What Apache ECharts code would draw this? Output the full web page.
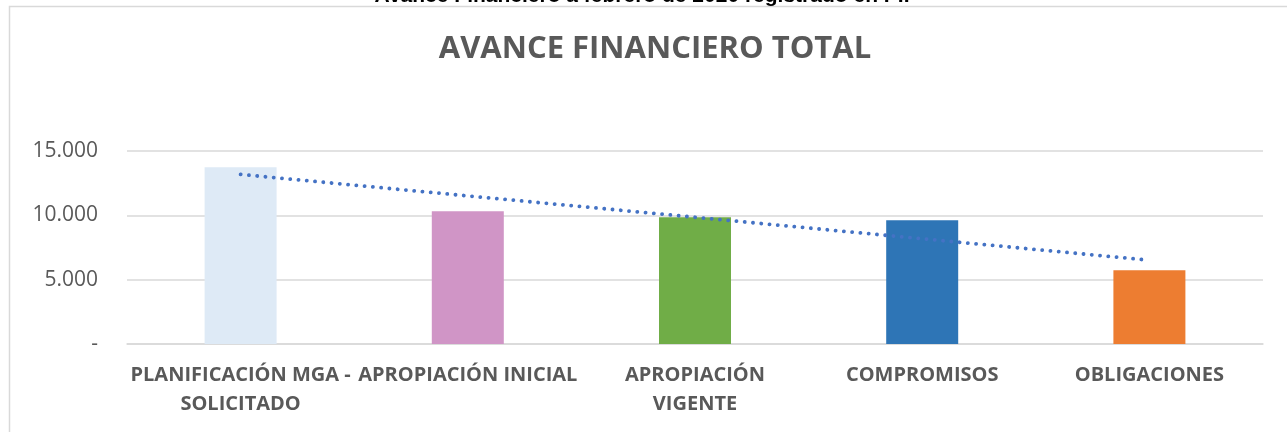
<!DOCTYPE html>
<html>
<head>
<meta charset="utf-8">
<script src="https://cdn.jsdelivr.net/npm/echarts@6/dist/echarts.min.js"></script>
<style>
  html, body { margin: 0; padding: 0; background: #fff; }
  #chart { width: 1287px; height: 432px; }
</style>
</head>
<body>
<div id="chart"></div>
<script>
const categories = [
  'PLANIFICACIÓN MGA -\nSOLICITADO',
  'APROPIACIÓN INICIAL',
  'APROPIACIÓN\nVIGENTE',
  'COMPROMISOS',
  'OBLIGACIONES'
]
const values = [13740, 10320, 9850, 9620, 5730]
const barColors = ['#DEEAF6', '#D095C6', '#70AD47', '#2E75B6', '#ED7D31']
const trendValues = [13180, 11510, 9850, 8180, 6510]
const yTicks = [0, 5000, 10000, 15000]

const chart = echarts.init(document.getElementById('chart'))

function fmt(v) {
  if (v === 0) return '-'
  return String(v).replace(/\B(?=(\d{3})+(?!\d))/g, '.')
}

chart.setOption({
  animation: false,
  backgroundColor: '#fff',
  textStyle: { fontFamily: 'Open Sans' },
  title: {
    text: 'AVANCE FINANCIERO TOTAL',
    left: 650,
    textAlign: 'center',
    top: 29,
    textStyle: { color: '#595959', fontSize: 31, fontWeight: 'bold', fontFamily: 'Open Sans' }
  },
  graphic: [
    {
      type: 'rect',
      shape: { x: 9.5, y: 6.5, width: 1300, height: 500 },
      style: { fill: 'none', stroke: '#d9d9d9', lineWidth: 1.5 },
      silent: true
    },
    {
      type: 'text',
      x: 642,
      y: -14,
      style: {
        text: 'Avance Financiero a febrero de 2020 registrado en PII',
        fill: '#000',
        font: 'bold 21px "Liberation Sans"',
        textAlign: 'center'
      },
      silent: true
    }
  ],
  grid: { left: 127, right: 24, top: 151, bottom: 88 },
  xAxis: {
    type: 'category',
    data: categories,
    axisTick: { show: false },
    axisLine: { lineStyle: { color: '#d9d9d9', width: 1.5 } },
    axisLabel: {
      color: '#595959',
      fontSize: 20,
      fontWeight: 'bold',
      lineHeight: 29,
      margin: 17,
      interval: 0
    }
  },
  yAxis: {
    type: 'value',
    min: 0,
    max: 15000,
    interval: 5000,
    axisLine: { show: false },
    axisTick: { show: false },
    splitLine: { lineStyle: { color: '#d9d9d9', width: 1.5 } },
    axisLabel: {
      color: '#595959',
      fontSize: 21,
      margin: 29,
      formatter: (v) => yTicks.includes(v) ? fmt(v) : ''
    }
  },
  series: [
    {
      type: 'bar',
      data: values.map((v, i) => ({ value: v, itemStyle: { color: barColors[i] } })),
      barWidth: 72
    },
    {
      type: 'line',
      data: trendValues,
      symbol: 'none',
      z: 5,
      lineStyle: { color: '#4472C4', width: 3.8, type: [0.1, 8.2], cap: 'round' }
    }
  ]
})
</script>
</body>
</html>
